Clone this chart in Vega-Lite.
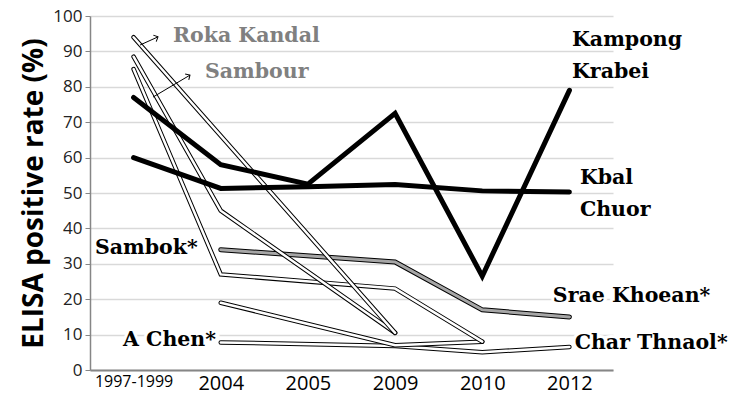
{
  "$schema": "https://vega.github.io/schema/vega-lite/v6.json",
  "width": 523,
  "height": 354,
  "autosize": {"type": "none"},
  "padding": {"left": 90, "top": 16, "right": 122, "bottom": 35},
  "background": "white",
  "config": {"view": {"stroke": null}},
  "datasets": {
    "rates": [
      {"site": "Kampong Krabei", "year": "1997-1999", "i": 0, "rate": 77},
      {"site": "Kampong Krabei", "year": "2004", "i": 1, "rate": 58},
      {"site": "Kampong Krabei", "year": "2005", "i": 2, "rate": 52.5},
      {"site": "Kampong Krabei", "year": "2009", "i": 3, "rate": 72.5},
      {"site": "Kampong Krabei", "year": "2010", "i": 4, "rate": 26.5},
      {"site": "Kampong Krabei", "year": "2012", "i": 5, "rate": 79},
      {"site": "Kbal Chuor", "year": "1997-1999", "i": 0, "rate": 60},
      {"site": "Kbal Chuor", "year": "2004", "i": 1, "rate": 51.3},
      {"site": "Kbal Chuor", "year": "2005", "i": 2, "rate": 51.8},
      {"site": "Kbal Chuor", "year": "2009", "i": 3, "rate": 52.4},
      {"site": "Kbal Chuor", "year": "2010", "i": 4, "rate": 50.6},
      {"site": "Kbal Chuor", "year": "2012", "i": 5, "rate": 50.3},
      {"site": "Roka Kandal", "year": "1997-1999", "i": 0, "rate": 94},
      {"site": "Roka Kandal", "year": "2009", "i": 3, "rate": 10.5},
      {"site": "Sambour", "year": "1997-1999", "i": 0, "rate": 88.5},
      {"site": "Sambour", "year": "2004", "i": 1, "rate": 45},
      {"site": "Sambour", "year": "2009", "i": 3, "rate": 10.5},
      {"site": "Srae Khoean*", "year": "1997-1999", "i": 0, "rate": 85},
      {"site": "Srae Khoean*", "year": "2004", "i": 1, "rate": 27},
      {"site": "Srae Khoean*", "year": "2009", "i": 3, "rate": 23},
      {"site": "Srae Khoean*", "year": "2010", "i": 4, "rate": 8},
      {"site": "Sambok*", "year": "2004", "i": 1, "rate": 34},
      {"site": "Sambok*", "year": "2009", "i": 3, "rate": 30.5},
      {"site": "Sambok*", "year": "2010", "i": 4, "rate": 17},
      {"site": "Sambok*", "year": "2012", "i": 5, "rate": 15},
      {"site": "Char Thnaol*", "year": "2004", "i": 1, "rate": 19},
      {"site": "Char Thnaol*", "year": "2009", "i": 3, "rate": 7},
      {"site": "Char Thnaol*", "year": "2010", "i": 4, "rate": 8},
      {"site": "A Chen*", "year": "2004", "i": 1, "rate": 7.8},
      {"site": "A Chen*", "year": "2009", "i": 3, "rate": 6.8},
      {"site": "A Chen*", "year": "2010", "i": 4, "rate": 5},
      {"site": "A Chen*", "year": "2012", "i": 5, "rate": 6.5}
    ],
    "labels": [
      {"label": "Roka Kandal", "i": 0.452, "rate": 94.4},
      {"label": "Sambour", "i": 0.819, "rate": 84.2},
      {"label": "Kampong", "i": 5.03, "rate": 93.2},
      {"label": "Krabei", "i": 5.03, "rate": 84.2},
      {"label": "Kbal", "i": 5.12, "rate": 54.2},
      {"label": "Chuor", "i": 5.12, "rate": 45.2},
      {"label": "Sambok*", "i": -0.443, "rate": 34.5},
      {"label": "Srae Khoean*", "i": 4.81, "rate": 20.9},
      {"label": "A Chen*", "i": -0.121, "rate": 8.5},
      {"label": "Char Thnaol*", "i": 5.06, "rate": 7.6}
    ],
    "arrows": [
      {"arrow": "Roka Kandal", "part": "tail", "i": 0.074, "rate": 91.8},
      {"arrow": "Roka Kandal", "part": "tip", "i": 0.28, "rate": 94.1},
      {"arrow": "Sambour", "part": "tail", "i": 0.223, "rate": 77.1},
      {"arrow": "Sambour", "part": "tip", "i": 0.647, "rate": 83.3}
    ]
  },
  "encoding": {
    "x": {
      "field": "i", "type": "quantitative",
      "scale": {"domain": [-0.5, 5.5], "nice": false, "zero": false},
      "axis": {
        "values": [0, 1, 2, 3, 4, 5],
        "labelExpr": "['1997-1999','2004','2005','2009','2010','2012'][datum.value]",
        "title": null, "grid": false, "ticks": false,
        "domainColor": "#868686", "domainWidth": 2,
        "labelFont": "Open Sans", "labelColor": "black",
        "labelFontSize": {"condition": {"test": "datum.value == 0", "value": 16}, "value": 20},
        "labelPadding": 3, "labelFlush": false, "labelOverlap": false
      }
    },
    "y": {
      "field": "rate", "type": "quantitative",
      "scale": {"domain": [0, 100], "nice": false},
      "axis": {
        "values": [0, 10, 20, 30, 40, 50, 60, 70, 80, 90, 100],
        "title": "ELISA positive rate (%)",
        "grid": true, "gridColor": "#d9d9d9", "gridWidth": 1.5,
        "domainColor": "#868686", "domainWidth": 1.5,
        "tickColor": "#868686", "tickSize": 5,
        "labelFont": "Open Sans", "labelFontSize": 17, "labelColor": "#222222", "labelPadding": 3,
        "titleFont": "Open Sans", "titleFontSize": 28, "titleFontWeight": "bold", "titleColor": "black", "titlePadding": 4
      }
    }
  },
  "layer": [
    {
      "data": {"name": "rates"},
      "transform": [{"filter": "datum.site == 'Sambok*'"}],
      "layer": [
        {"mark": {"type": "line", "stroke": "black", "strokeWidth": 5, "strokeCap": "round"}},
        {"mark": {"type": "line", "stroke": "#a6a6a6", "strokeWidth": 3, "strokeCap": "round"}}
      ]
    },
    {
      "data": {"name": "rates"},
      "transform": [{"filter": "datum.site == 'A Chen*'"}],
      "layer": [
        {"mark": {"type": "line", "stroke": "black", "strokeWidth": 4.5, "strokeCap": "round"}},
        {"mark": {"type": "line", "stroke": "white", "strokeWidth": 2.5, "strokeCap": "round"}}
      ]
    },
    {
      "data": {"name": "rates"},
      "transform": [{"filter": "datum.site == 'Char Thnaol*'"}],
      "layer": [
        {"mark": {"type": "line", "stroke": "black", "strokeWidth": 4.5, "strokeCap": "round"}},
        {"mark": {"type": "line", "stroke": "white", "strokeWidth": 2.5, "strokeCap": "round"}}
      ]
    },
    {
      "data": {"name": "rates"},
      "transform": [{"filter": "datum.site == 'Srae Khoean*'"}],
      "layer": [
        {"mark": {"type": "line", "stroke": "black", "strokeWidth": 4.5, "strokeCap": "round"}},
        {"mark": {"type": "line", "stroke": "white", "strokeWidth": 2.5, "strokeCap": "round"}}
      ]
    },
    {
      "data": {"name": "rates"},
      "transform": [{"filter": "datum.site == 'Sambour'"}],
      "layer": [
        {"mark": {"type": "line", "stroke": "black", "strokeWidth": 4.5, "strokeCap": "round"}},
        {"mark": {"type": "line", "stroke": "white", "strokeWidth": 2.5, "strokeCap": "round"}}
      ]
    },
    {
      "data": {"name": "rates"},
      "transform": [{"filter": "datum.site == 'Roka Kandal'"}],
      "layer": [
        {"mark": {"type": "line", "stroke": "black", "strokeWidth": 4.5, "strokeCap": "round"}},
        {"mark": {"type": "line", "stroke": "white", "strokeWidth": 2.5, "strokeCap": "round"}}
      ]
    },
    {
      "data": {"name": "rates"},
      "transform": [{"filter": "datum.site == 'Kbal Chuor' || datum.site == 'Kampong Krabei'"}],
      "mark": {"type": "line", "stroke": "black", "strokeWidth": 5, "strokeCap": "round"},
      "encoding": {"detail": {"field": "site"}}
    },
    {
      "data": {"name": "arrows"},
      "mark": {"type": "line", "stroke": "black", "strokeWidth": 1},
      "encoding": {"detail": {"field": "arrow"}}
    },
    {
      "data": {"name": "arrows"},
      "transform": [{"filter": "datum.part == 'tip' && datum.arrow == 'Roka Kandal'"}],
      "mark": {"type": "point", "shape": "M-1,1L0,0L1,1", "filled": false, "stroke": "black", "strokeWidth": 1, "size": 50, "angle": 66, "opacity": 1}
    },
    {
      "data": {"name": "arrows"},
      "transform": [{"filter": "datum.part == 'tip' && datum.arrow == 'Sambour'"}],
      "mark": {"type": "point", "shape": "M-1,1L0,0L1,1", "filled": false, "stroke": "black", "strokeWidth": 1, "size": 50, "angle": 59, "opacity": 1}
    },
    {
      "data": {"name": "labels"},
      "mark": {"type": "text", "align": "left", "baseline": "middle", "font": "DejaVu Serif", "fontWeight": "bold", "fontSize": 20.5, "fill": "white", "stroke": "white", "strokeWidth": 6},
      "encoding": {"text": {"field": "label"}}
    },
    {
      "data": {"name": "labels"},
      "transform": [{"filter": "datum.label == 'Roka Kandal' || datum.label == 'Sambour'"}],
      "mark": {"type": "text", "align": "left", "baseline": "middle", "font": "DejaVu Serif", "fontWeight": "bold", "fontSize": 20.5, "fill": "#808080"},
      "encoding": {"text": {"field": "label"}}
    },
    {
      "data": {"name": "labels"},
      "transform": [{"filter": "datum.label != 'Roka Kandal' && datum.label != 'Sambour'"}],
      "mark": {"type": "text", "align": "left", "baseline": "middle", "font": "DejaVu Serif", "fontWeight": "bold", "fontSize": 20.5, "fill": "black"},
      "encoding": {"text": {"field": "label"}}
    }
  ]
}
